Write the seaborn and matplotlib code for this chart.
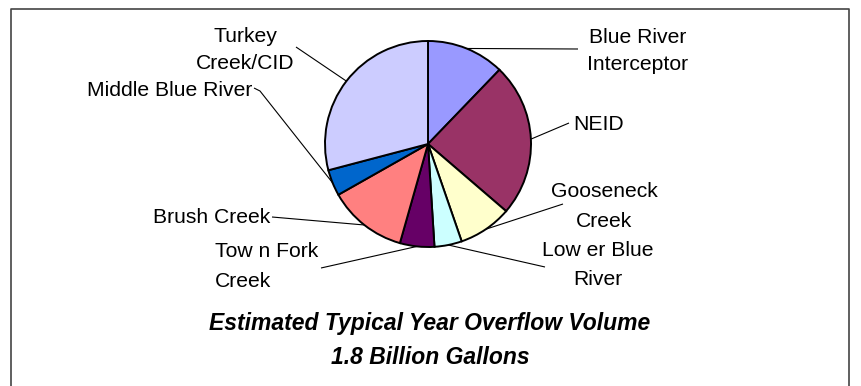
import matplotlib
matplotlib.use("Agg")
import numpy as np
import matplotlib.pyplot as plt
import seaborn as sns
from matplotlib import font_manager

# Share of the typical-year overflow volume by outfall area (percent), clockwise from 12 o'clock
segments = ["Blue River Interceptor", "NEID", "Gooseneck Creek", "Lower Blue River",
            "Town Fork Creek", "Brush Creek", "Middle Blue River", "Turkey Creek/CID"]
share_pct = [12.2, 24.1, 8.4, 4.3, 5.4, 12.4, 4.1, 29.1]
slice_colors = ["#9999FF", "#993366", "#FFFFCC", "#CCFFFF",
                "#660066", "#FF8080", "#0066CC", "#CCCCFF"]
label_lines = [["Blue River", "Interceptor"], ["NEID"], ["Gooseneck", "Creek"],
               ["Low er Blue", "River"], ["Tow n Fork", "Creek"], ["Brush Creek"],
               ["Middle Blue River"], ["Turkey", "Creek/CID"]]
title_lines = ["Estimated Typical Year Overflow Volume", "1.8 Billion Gallons"]

sns.set_theme(style="white")
plt.rcParams["font.family"] = ["Liberation Sans", "DejaVu Sans"]

installed = {f.name for f in font_manager.fontManager.ttflist}
if "Liberation Sans Narrow" in installed:
    title_family, title_size = ["Liberation Sans Narrow", "DejaVu Sans"], 20
else:
    title_family, title_size = ["Liberation Sans", "DejaVu Sans"], 16.5

W, H = 862, 386
fig = plt.figure(figsize=(W / 100, H / 100), dpi=100)
ax = fig.add_axes([0, 0, 1, 1])

cx, cy, r = 428, 144, 103
palette = sns.color_palette(slice_colors)
wedges, _ = ax.pie(share_pct, colors=palette, startangle=-90, counterclock=True,
                   center=(cx, cy), radius=r,
                   wedgeprops=dict(edgecolor="black", linewidth=1.4))
ax.set_xlim(0, W)
ax.set_ylim(H, 0)
ax.set_aspect("auto")
ax.axis("off")

# Label placement (pixel layout) and where each leader line leaves the label
label_specs = {
    "Blue River Interceptor": dict(x=638, ys=[43, 70], ha="center", lead=[(578, 49)]),
    "NEID": dict(x=573, ys=[130], ha="left", lead=[(569, 123)]),
    "Gooseneck Creek": dict(x=604, ys=[197, 227], ha="center", lead=[(563, 204)]),
    "Lower Blue River": dict(x=598, ys=[256, 285], ha="center", lead=[(545, 267)]),
    "Town Fork Creek": dict(x=215, ys=[257, 287], ha="left", lead=[(321, 268)]),
    "Brush Creek": dict(x=270, ys=[223], ha="right", lead=[(272, 217)]),
    "Middle Blue River": dict(x=252, ys=[96], ha="right", lead=[(254, 88), (260, 91)]),
    "Turkey Creek/CID": dict(x=245, ys=[42, 69], ha="center", lead=[(296, 47)]),
}

for name, wedge, lines in zip(segments, wedges, label_lines):
    spec = label_specs[name]
    for text, y in zip(lines, spec["ys"]):
        ax.text(spec["x"], y, text, ha=spec["ha"], va="baseline",
                fontsize=15.2, color="black")
    mid = np.deg2rad((wedge.theta1 + wedge.theta2) / 2)
    ex, ey = cx + r * np.cos(mid), cy + r * np.sin(mid)
    pts = spec["lead"] + [(ex, ey)]
    ax.plot([p[0] for p in pts], [p[1] for p in pts], color="black",
            linewidth=0.8, solid_capstyle="butt", zorder=0.5)

ax.text(430, 330, title_lines[0], ha="center", va="baseline", fontsize=title_size,
        fontweight="bold", fontstyle="italic", family=title_family, color="black")
ax.text(430, 364, title_lines[1], ha="center", va="baseline", fontsize=title_size,
        fontweight="bold", fontstyle="italic", family=title_family, color="black")

# Chart area border
ax.plot([11, 11, 849, 849], [H + 5, 9, 9, H + 5], color="#444444", linewidth=1.2,
        clip_on=False)

fig.savefig("out.png", dpi=100)
